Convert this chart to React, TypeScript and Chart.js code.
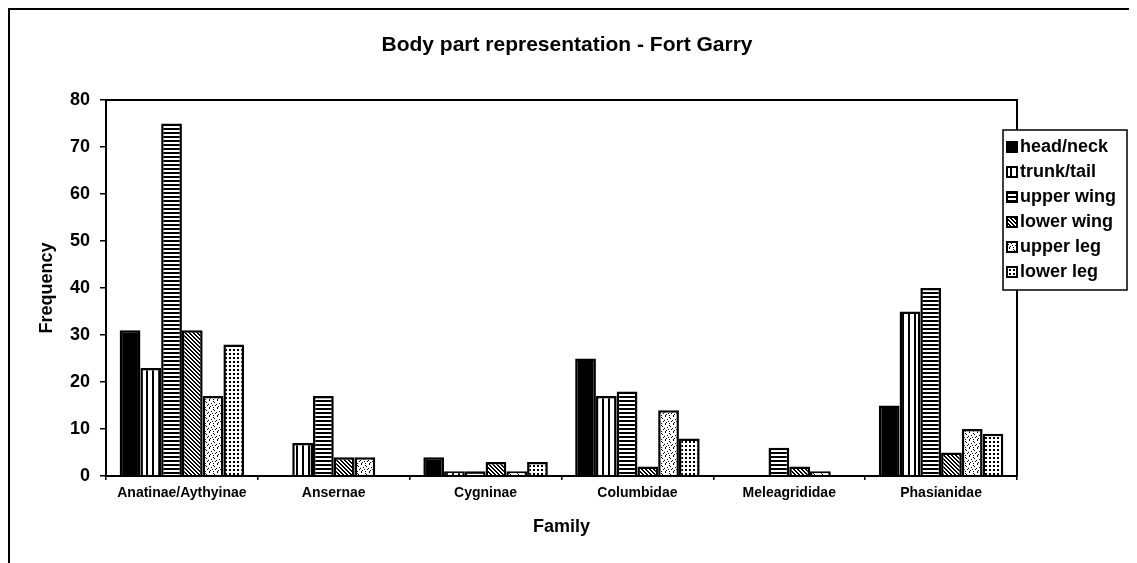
import React, { useEffect, useRef } from 'react';
import { Chart, registerables } from 'chart.js';

Chart.register(...registerables);

const categories = ['Anatinae/Aythyinae', 'Ansernae', 'Cygninae', 'Columbidae', 'Meleagrididae', 'Phasianidae'];
const seriesLabels = ['head/neck', 'trunk/tail', 'upper wing', 'lower wing', 'upper leg', 'lower leg'];
const headNeck = [31, 0, 4, 25, 0, 15];
const trunkTail = [23, 7, 1, 17, 0, 35];
const upperWing = [75, 17, 1, 18, 6, 40];
const lowerWing = [31, 4, 3, 2, 2, 5];
const upperLeg = [17, 4, 1, 14, 1, 10];
const lowerLeg = [28, 0, 3, 8, 0, 9];
const yMin = 0;
const yMax = 80;
const yStep = 10;

const titleText = 'Body part representation - Fort Garry';
const xTitle = 'Family';
const yTitle = 'Frequency';

const FONT = "'Liberation Sans', Arial, Helvetica, sans-serif";

// fixed speckle cells for the "upper leg" texture
const speckleCells = [
  [1, 0], [5, 1], [6, 2], [3, 3], [0, 4], [4, 5], [7, 5], [2, 6], [5, 7], [1, 7],
];

function makePattern(kind: string): CanvasPattern | string {
  if (kind === 'solid') return '#000';
  const c = document.createElement('canvas');
  let w = 4;
  let h = 4;
  if (kind === 'vstripe') { w = 6; h = 1; }
  if (kind === 'hstripe') { w = 1; h = 4; }
  if (kind === 'diag') { w = 4; h = 4; }
  if (kind === 'speckle') { w = 8; h = 8; }
  if (kind === 'dots') { w = 4; h = 4; }
  c.width = w;
  c.height = h;
  const g = c.getContext('2d')!;
  g.fillStyle = '#fff';
  g.fillRect(0, 0, w, h);
  g.fillStyle = '#000';
  if (kind === 'vstripe') g.fillRect(0, 0, 2, 1);
  if (kind === 'hstripe') g.fillRect(0, 0, 1, 2);
  if (kind === 'diag') {
    for (let i = 0; i < 4; i++) {
      g.fillRect(i, i, 1, 1);
      g.fillRect((i + 1) % 4, i, 1, 1);
    }
  }
  if (kind === 'speckle') {
    speckleCells.forEach(([x, y]) => g.fillRect(x, y, 1, 1));
  }
  if (kind === 'dots') g.fillRect(1, 1, 2, 2);
  return g.createPattern(c, 'repeat')!;
}

const patternKinds = ['solid', 'vstripe', 'hstripe', 'diag', 'speckle', 'dots'];

export default function App() {
  const ref = useRef<HTMLCanvasElement | null>(null);

  useEffect(() => {
    if (!ref.current) return;
    const fills = patternKinds.map(makePattern);
    const seriesData = [headNeck, trunkTail, upperWing, lowerWing, upperLeg, lowerLeg];

    const framePlugin = {
      id: 'frame',
      afterDraw(chart: any) {
        const ctx = chart.ctx as CanvasRenderingContext2D;
        const a = chart.chartArea;
        ctx.save();
        // title
        ctx.fillStyle = '#000';
        ctx.font = `bold 21px ${FONT}`;
        ctx.textAlign = 'center';
        ctx.textBaseline = 'middle';
        ctx.fillText(titleText, 559, 37);
        // plot area box
        ctx.strokeStyle = '#000';
        ctx.lineWidth = 2;
        ctx.strokeRect(a.left, a.top, a.right - a.left, a.bottom - a.top);
        // outer chart border (left + top visible)
        ctx.beginPath();
        ctx.moveTo(1, chart.height);
        ctx.lineTo(1, 1);
        ctx.lineTo(chart.width, 1);
        ctx.stroke();
        // legend
        const lx = 995;
        const ly = 122;
        const lw = 124;
        const lh = 160;
        ctx.fillStyle = '#fff';
        ctx.fillRect(lx, ly, lw, lh);
        ctx.lineWidth = 1.5;
        ctx.strokeRect(lx, ly, lw, lh);
        ctx.font = `bold 18px ${FONT}`;
        ctx.textBaseline = 'middle';
        ctx.textAlign = 'left';
        seriesLabels.forEach((lab, i) => {
          const cy = ly + 17 + i * 25;
          ctx.fillStyle = fills[i] as any;
          ctx.fillRect(lx + 4, cy - 5, 10, 10);
          ctx.strokeStyle = '#000';
          ctx.lineWidth = 2;
          ctx.strokeRect(lx + 4, cy - 5, 10, 10);
          ctx.fillStyle = '#000';
          ctx.fillText(lab, lx + 17, cy);
        });
        ctx.restore();
      },
    };

    const chart = new Chart(ref.current, {
      type: 'bar',
      data: {
        labels: categories,
        datasets: seriesData.map((d, i) => ({
          label: seriesLabels[i],
          data: d,
          backgroundColor: fills[i] as any,
          borderColor: '#000',
          borderWidth: 2.5,
          categoryPercentage: 0.82,
          barPercentage: 1,
        })),
      },
      options: {
        responsive: false,
        animation: false,
        layout: { padding: { left: 0, right: 120, top: 92, bottom: 0 } },
        plugins: {
          legend: { display: false },
          tooltip: { enabled: false },
          title: { display: false },
        },
        scales: {
          x: {
            grid: { display: true, drawOnChartArea: false, tickLength: 4, color: '#000', lineWidth: 1.5, offset: true },
            border: { display: true, color: '#000', width: 2 },
            ticks: {
              color: '#000',
              font: { family: FONT, size: 14, weight: 'bold' },
              padding: 5,
              maxRotation: 0,
              autoSkip: false,
            },
            title: {
              display: true,
              text: xTitle,
              color: '#000',
              font: { family: FONT, size: 18, weight: 'bold' },
              padding: { top: 0, bottom: 25 },
            },
            afterFit: (s: any) => { s.height = 87; },
          },
          y: {
            min: yMin,
            max: yMax,
            ticks: {
              stepSize: yStep,
              color: '#000',
              font: { family: FONT, size: 18, weight: 'bold' },
              padding: 10,
            },
            grid: { drawOnChartArea: false, tickLength: 6, color: '#000', lineWidth: 1.5 },
            border: { display: true, color: '#000', width: 2 },
            title: {
              display: true,
              text: yTitle,
              color: '#000',
              font: { family: FONT, size: 18, weight: 'bold' },
              padding: { top: 28, bottom: 0 },
            },
            afterFit: (s: any) => { s.width = 98; },
          },
        },
      },
      plugins: [framePlugin],
    } as any);

    return () => chart.destroy();
  }, []);

  return (
    <div style={{ width: 1129, height: 555, background: '#fff' }}>
      <canvas ref={ref} width={1129} height={555} style={{ display: 'block' }} />
    </div>
  );
}
